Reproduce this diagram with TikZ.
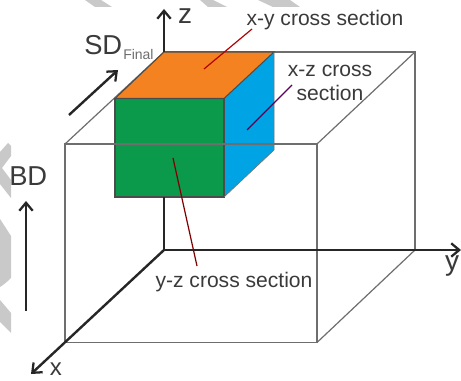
\documentclass[tikz,border=0pt]{standalone}
\usepackage{fontspec}
\setmainfont{Liberation Sans}
\usetikzlibrary{arrows.meta}
\definecolor{txt}{HTML}{3A3A3A}
\definecolor{wire}{HTML}{6E6E6E}
\definecolor{mark}{HTML}{C9C9C9}
\definecolor{orangeface}{HTML}{F58220}
\definecolor{greenface}{HTML}{0B9A4B}
\definecolor{blueface}{HTML}{00A4E4}
\tikzset{
  wireline/.style={draw=wire,line width=0.9pt},
  axisline/.style={draw=black!85,line width=1.8pt},
  axisarrow/.style={axisline,-{Straight Barb[length=6pt,width=10pt,line width=1.7pt]}},
  leader/.style={line width=0.9pt},
  face/.style={draw=black!70,line width=0.8pt},
  label/.style={text=txt,inner sep=0pt,font=\fontsize{15.8pt}{17.5pt}\selectfont,align=center},
  biglabel/.style={text=txt,inner sep=0pt,font=\fontsize{20.5pt}{22pt}\selectfont},
  axlabel/.style={text=txt,inner sep=0pt,font=\fontsize{21pt}{23pt}\selectfont},
  markshape/.style={fill=mark,draw=none}
}
\begin{document}
\begin{tikzpicture}[x=0.75pt,y=-0.75pt]
\useasboundingbox (0,0) rectangle (461,381);
\fill[white] (0,0) rectangle (461,381);
% watermark fragments
\fill[markshape] (85,0) -- (101,0) -- (112,7) -- (95,7) -- cycle;
\fill[markshape] (200,0) -- (213,0) -- (227,7) -- (208,7) -- cycle;
\fill[markshape] (258,0) -- (290,0) -- (300,7) -- (273,7) -- cycle;
\fill[markshape] (0,152) -- (8,143) -- (11,146) -- (11,156) -- (2,168) -- (11,180) -- (11,198) -- (0,184) -- cycle;
\fill[markshape] (0,219) -- (11,236) -- (11,278) .. controls (6,283) and (3,285) .. (0,287) -- cycle;
\fill[markshape] (0,300) -- (11,313) -- (11,333) -- (0,322) -- cycle;
% named corners
\coordinate (bA) at (164,52);
\coordinate (bB) at (415,52);
\coordinate (bC) at (415,250);
\coordinate (bD) at (164,250);
\coordinate (fA) at (65,144);
\coordinate (fB) at (317,144);
\coordinate (fC) at (317,342.5);
\coordinate (fD) at (65,342.5);
\coordinate (cT) at (274,52);
\coordinate (cF) at (115,98.5);
\coordinate (cG) at (224,98.5);
\coordinate (cH) at (224,197);
\coordinate (cI) at (115,197);
\coordinate (cJ) at (274,150);
\coordinate (zEnd) at (164,9);
\coordinate (yEnd) at (461,250);
\coordinate (xEnd) at (31,374);
% back wire edges
\draw[wireline] (bA) -- (bB) -- (bC);
\draw[wireline] (bB) -- (fB);
\draw[wireline] (bC) -- (fC);
\draw[wireline] (fA) -- (bA);
% faces
\fill[orangeface] (bA) -- (cT) -- (cG) -- (cF) -- cycle;
\fill[blueface] (cG) -- (cT) -- (cJ) -- (cH) -- cycle;
\fill[greenface] (cF) -- (cG) -- (cH) -- (cI) -- cycle;
\draw[face] (bA) -- (cT) -- (cG) -- (cF) -- cycle;
\draw[face] (cG) -- (cH) -- (cI) -- (cF);
\draw[draw=black!55,line width=0.5pt] (cT) -- (cJ) -- (cH);
% front wire box
\draw[wireline] (fA) -- (fB) -- (fC) -- (fD) -- cycle;
% axes
\draw[axisarrow] (bA) -- (zEnd);
\draw[axisline] (bD) -- (cI -| bD);
\draw[axisarrow] (bD) -- (yEnd);
\draw[axisarrow] (bD) -- (xEnd);
% direction arrows
\coordinate (sdS) at (69,115);
\coordinate (sdE) at (118,70);
\coordinate (bdS) at (26,311);
\coordinate (bdE) at (26,201);
\draw[axisarrow] (sdS) -- (sdE);
\draw[axisarrow] (bdS) -- (bdE);
% labels
\node[axlabel] (zl) at (185,16) {z};
\node[axlabel] (yl) at (452,266) {y};
\node[axlabel,font=\fontsize{18pt}{20pt}\selectfont] (xl) at (56,369) {x};
\node[biglabel,anchor=base west] (sd) at (84,55) {SD};
\node[text=wire,inner sep=0pt,anchor=base west,font=\fontsize{10.5pt}{12pt}\selectfont] (fin) at (123,60) {Final};
\node[biglabel,anchor=base west] (bd) at (9,186) {BD};
\node[label] (xy) at (325,20) {x-y cross section};
\node[label] (xz) at (330,83) {x-z cross\\section};
\node[label] (yz) at (234,282) {y-z cross section};
% leaders
\coordinate (lxyIn) at (204,69);
\coordinate (lxyOut) at (252,29);
\coordinate (lxzIn) at (247,130);
\coordinate (lxzOut) at (292,85);
\coordinate (lyzIn) at (173,158);
\coordinate (lyzOut) at (197,266);
\draw[leader,draw=red!70!black] (lxyIn) -- (lxyOut);
\draw[leader,draw=violet!70!black] (lxzIn) -- (lxzOut);
\draw[leader,draw=red!50!black] (lyzIn) -- (lyzOut);
\end{tikzpicture}
\end{document}
